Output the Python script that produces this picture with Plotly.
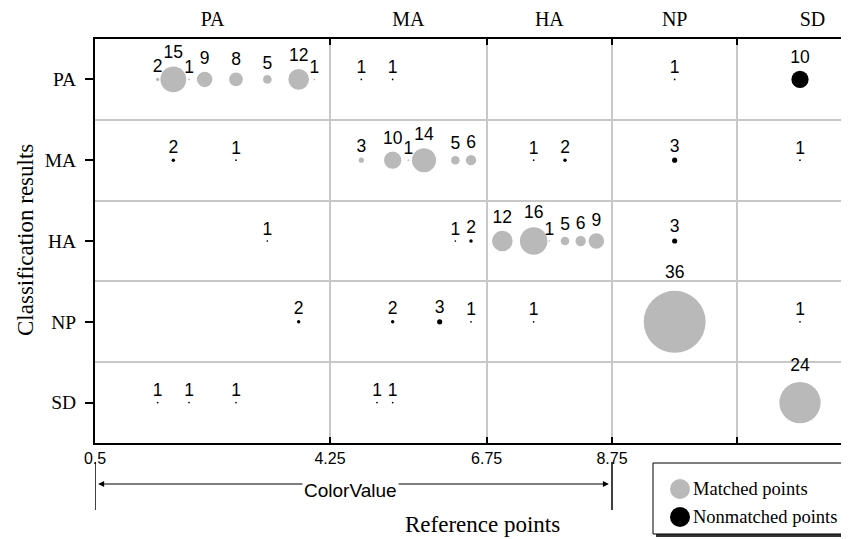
import plotly.graph_objects as go

# ---------------- data ----------------
rows = ["PA", "MA", "HA", "NP", "SD"]          # classification results (y)
cols = ["PA", "MA", "HA", "NP", "SD"]          # reference points (top labels)
col_centers = [2.375, 5.5, 7.75, 9.75, 11.95]
col_bounds = [4.25, 6.75, 8.75, 10.75]
x_ticks = [0.5, 4.25, 6.75, 8.75]
x_tick_text = ["0.5", "4.25", "6.75", "8.75"]

pa_x = [1.5, 1.75, 2.0, 2.25, 2.75, 3.25, 3.75, 4.0, 4.75, 5.25, 9.75, 11.75]
pa_n = [2, 15, 1, 9, 8, 5, 12, 1, 1, 1, 1, 10]
ma_x = [1.75, 2.75, 4.75, 5.25, 5.5, 5.75, 6.25, 6.5, 7.5, 8.0, 9.75, 11.75]
ma_n = [2, 1, 3, 10, 1, 14, 5, 6, 1, 2, 3, 1]
ha_x = [3.25, 6.25, 6.5, 7.0, 7.5, 7.75, 8.0, 8.25, 8.5, 9.75]
ha_n = [1, 1, 2, 12, 16, 1, 5, 6, 9, 3]
np_x = [3.75, 5.25, 6.0, 6.5, 7.5, 9.75, 11.75]
np_n = [2, 2, 3, 1, 1, 36, 1]
sd_x = [1.5, 2.0, 2.75, 5.0, 5.25, 11.75]
sd_n = [1, 1, 1, 1, 1, 24]

row_data = [(pa_x, pa_n), (ma_x, ma_n), (ha_x, ha_n), (np_x, np_n), (sd_x, sd_n)]

GREY = "#b9b9b9"
BLACK = "#000000"
SERIF = "Liberation Serif, Times New Roman, serif"
SANS = "Liberation Sans, Arial, sans-serif"

# ---------------- figure geometry ----------------
# the page body has an 8px margin, so the figure is sized/offset to compensate
OFF = 8
W, H = 849 - OFF, 539 - OFF
L, T = 95 - OFF, 39 - OFF
R = W - (847 - OFF)
B = H - (443 - OFF)
PW, PH = W - L - R, H - T - B

def xp(px):   # page pixel -> paper x
    return (px - OFF - L) / PW

def yp(py):   # page pixel -> paper y
    return (H - B - (py - OFF)) / PH

fig = go.Figure()

mx, my, mn, ux, uy, un = [], [], [], [], [], []
for ri, (xs, ns) in enumerate(row_data):
    for x, n in zip(xs, ns):
        ci = sum(1 for b in col_bounds if x > b)
        if ci == ri:
            mx.append(x); my.append(ri); mn.append(n)
        else:
            ux.append(x); uy.append(ri); un.append(n)

for xs, ys, ns, color, name in [(mx, my, mn, GREY, "Matched points"),
                                (ux, uy, un, BLACK, "Nonmatched points")]:
    fig.add_trace(go.Scatter(
        x=xs, y=ys, mode="markers+text", name=name,
        text=[str(n) for n in ns], textposition="top center",
        textfont=dict(family=SANS, size=17.5, color="black"),
        marker=dict(size=[1.72 * n for n in ns], color=color, line=dict(width=0),
                    opacity=1),
        showlegend=False, cliponaxis=False,
    ))

# invisible trace for top axis
fig.add_trace(go.Scatter(x=[col_centers[0]], y=[0], xaxis="x2", mode="markers",
                         marker=dict(opacity=0), showlegend=False, hoverinfo="skip"))

fig.update_layout(
    width=W, height=H,
    margin=dict(l=L, r=R, t=T, b=B, autoexpand=False),
    paper_bgcolor="white", plot_bgcolor="white",
    xaxis=dict(range=[0.5, 12.5], tickvals=x_ticks, ticktext=x_tick_text, automargin=False,
               ticks="inside", ticklen=6, tickwidth=1.5, tickcolor="black",
               showgrid=False, zeroline=False, showline=True, linewidth=2, linecolor="black",
               tickfont=dict(family=SANS, size=16, color="black"),
               minor=dict(tickvals=col_bounds, showgrid=True, gridcolor="#c8c8c8",
                          gridwidth=1.5, ticks="inside", ticklen=6, tickwidth=1.5,
                          tickcolor="black")),
    xaxis2=dict(range=[0.5, 12.5], overlaying="x", side="top", tickvals=col_centers,
                ticktext=cols, ticks="", showgrid=False, zeroline=False, showline=True,
                linewidth=2, linecolor="black", automargin=False, ticklabelstandoff=3,
                tickfont=dict(family=SERIF, size=20, color="black"),
                minor=dict(tickvals=col_bounds, ticks="inside", ticklen=6, tickwidth=1.5,
                           tickcolor="black", showgrid=False)),
    yaxis=dict(range=[4.5, -0.5], tickvals=list(range(len(rows))), ticktext=rows,
               automargin=False, ticklabelstandoff=5,
               ticks="outside", ticklen=8, tickwidth=1.5, tickcolor="black",
               showgrid=False, zeroline=False, showline=True, linewidth=2, linecolor="black",
               tickfont=dict(family=SERIF, size=19.5, color="black"),
               minor=dict(tickvals=[0.5, 1.5, 2.5, 3.5], showgrid=True,
                          gridcolor="#c8c8c8", gridwidth=1.5, ticks="")),
)

shapes = []
annotations = []

# y-axis title
annotations.append(dict(x=xp(25), y=yp(240), xref="paper", yref="paper",
                        xanchor="center", yanchor="middle",
                        text="Classification results", textangle=-90, showarrow=False,
                        font=dict(family=SERIF, size=23, color="black")))

# reference-range bars and arrow
for xv in [x_ticks[0], x_ticks[-1]]:
    shapes.append(dict(type="line", xref="x", yref="paper", x0=xv, x1=xv,
                       y0=yp(462), y1=yp(510), line=dict(color="black", width=1.5)))
arrow_y = yp(484)
for head, tail in [(0.55, 4.25), (8.70, 4.25)]:
    annotations.append(dict(x=head, y=arrow_y, xref="x", yref="paper", ax=tail, ay=0,
                            axref="x", ayref="pixel", text="", showarrow=True,
                            arrowhead=2, arrowsize=1.2, arrowwidth=1, arrowcolor="black"))
annotations.append(dict(x=xp(350), y=yp(490), xref="paper", yref="paper", text="ColorValue",
                        xanchor="center", yanchor="middle",
                        showarrow=False, bgcolor="white", borderpad=1,
                        font=dict(family=SANS, size=19, color="black")))
annotations.append(dict(x=xp(482), y=yp(524), xref="paper", yref="paper",
                        xanchor="center", yanchor="middle",
                        text="Reference points", showarrow=False,
                        font=dict(family=SERIF, size=23, color="black")))

# legend box (manual)
lx0, lx1, ly0, ly1 = 653, 843, 463, 534
shapes.append(dict(type="rect", xref="paper", yref="paper", x0=xp(lx0 + 3), x1=xp(lx1 + 3),
                   y0=yp(ly0 + 3), y1=yp(ly1 + 3), fillcolor="#333333",
                   line=dict(width=0)))
shapes.append(dict(type="rect", xref="paper", yref="paper", x0=xp(lx0), x1=xp(lx1),
                   y0=yp(ly0), y1=yp(ly1), fillcolor="white",
                   line=dict(color="black", width=1)))
for cy, color, label in [(489, GREY, "Matched points"), (517, BLACK, "Nonmatched points")]:
    shapes.append(dict(type="circle", xref="paper", yref="paper", x0=xp(670), x1=xp(690),
                       y0=yp(cy - 10), y1=yp(cy + 10), fillcolor=color, line=dict(width=0)))
    annotations.append(dict(x=xp(691), y=yp(cy), xref="paper", yref="paper", text=label,
                            xanchor="left", yanchor="middle", showarrow=False,
                            font=dict(family=SERIF, size=18.5, color="black")))

fig.update_layout(shapes=shapes, annotations=annotations)
fig.write_html("out.html")
